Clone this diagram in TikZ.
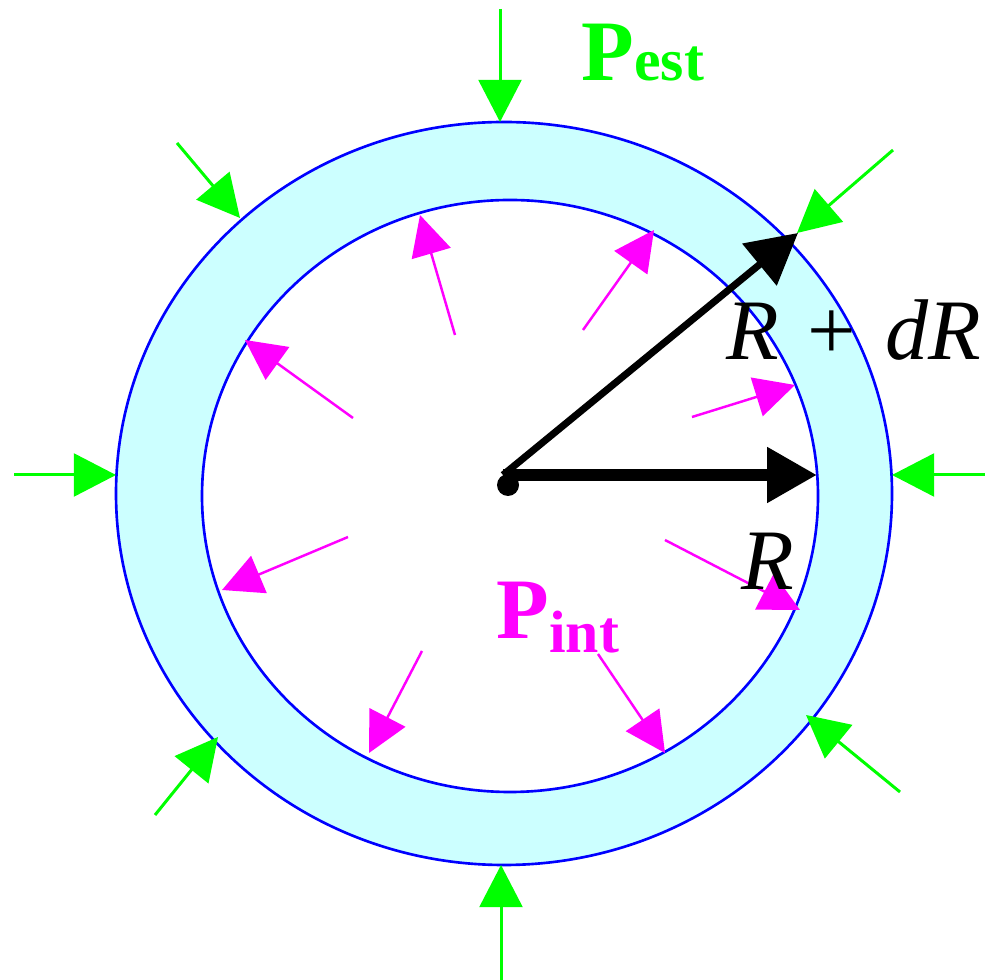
\documentclass[tikz,border=0pt]{standalone}
\usepackage{fontspec}
\setmainfont{Liberation Serif}
\usetikzlibrary{arrows.meta}

\definecolor{ringfill}{RGB}{204,255,255}
\definecolor{estgreen}{RGB}{0,255,0}
\definecolor{intmagenta}{RGB}{255,0,255}

\tikzset{
    pestarrow/.style={color=estgreen, line width=0.85pt, -{Triangle[length=12pt, width=12.2pt]}},
    pintarrow/.style={color=intmagenta, line width=0.7pt, -{Triangle[length=11.4pt, width=11.4pt]}},
    radarrow/.style={black, -{Triangle[length=14.2pt, width=15pt]}},
    biglabel/.style={inner sep=0pt, font=\fontsize{24.5}{28}\selectfont}
}

\begin{document}
\begin{tikzpicture}[x=0.01cm, y=-0.01cm]
    \useasboundingbox (0,0) rectangle (985,980);

    % Ring (wall of the tube)
    \fill[ringfill, even odd rule] (504,493.5) ellipse [x radius=388, y radius=371.5]
                                   (510,496) ellipse [x radius=308, y radius=296];
    \draw[blue, line width=0.75pt] (504,493.5) ellipse [x radius=388, y radius=371.5];
    \draw[blue, line width=0.75pt] (510,496) ellipse [x radius=308, y radius=296];

    % Outer pressure arrows (pointing inwards)
    \foreach \n/\tx/\ty/\hx/\hy in {1/500/9/500/122, 2/177/143/240/218, 3/14/475/116/475,
                                     4/155/815/218/737, 5/501/980/501/865, 6/900/792/806/715,
                                     7/985/475/892/475, 8/893/150/797/233} {
        \coordinate (est\n a) at (\tx,\ty);
        \coordinate (est\n b) at (\hx,\hy);
        \draw[pestarrow] (est\n a) -- (est\n b);
    }

    % Inner pressure arrows (pointing outwards)
    \foreach \n/\tx/\ty/\hx/\hy in {1/455/335/420/215, 2/583/330/654/230, 3/353/418/245/340,
                                     4/692/417/795/385, 5/348/537/222/590, 6/665/540/800/610,
                                     7/422/651/369/753, 8/598/654/665/753} {
        \coordinate (int\n a) at (\tx,\ty);
        \coordinate (int\n b) at (\hx,\hy);
        \draw[pintarrow] (int\n a) -- (int\n b);
    }

    % Radii
    \coordinate (centre) at (503,475);
    \coordinate (innerR) at (817,475);
    \coordinate (outerR) at (798,233);
    \fill (508,485) circle [radius=11];
    \draw[radarrow, line width=3.4pt] (centre) -- (innerR);
    \draw[radarrow, line width=2pt] (centre) -- (outerR);

    % Labels
    \node[biglabel, anchor=base west] (labRdR) at (726,360) {\textit{R}\hspace{2pt} + \hspace{2pt}\textit{dR}};
    \node[biglabel, anchor=base] (labR) at (768,590) {\textit{R}};
    \node[inner sep=0pt, anchor=base west, text=intmagenta, font=\bfseries\fontsize{24.5}{28}\selectfont]
        (labPint) at (496,639) {P\raisebox{-0.13cm}{\fontsize{17}{20}\selectfont int}};
    \node[inner sep=0pt, anchor=base west, text=estgreen, font=\bfseries\fontsize{24.5}{28}\selectfont]
        (labPest) at (581,81) {P\fontsize{17}{20}\selectfont est};
\end{tikzpicture}
\end{document}
